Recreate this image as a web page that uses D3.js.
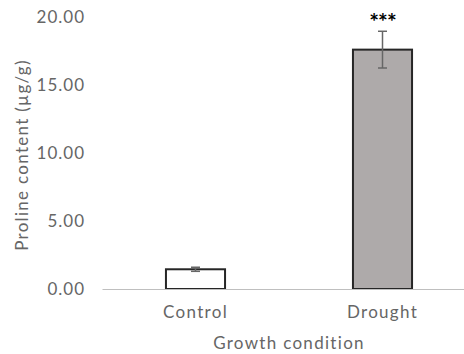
<!DOCTYPE html>
<html>
<head>
<meta charset="utf-8">
<script src="https://cdn.jsdelivr.net/npm/d3@7"></script>
<style>
  body { margin: 0; background: #fff; }
  text { font-family: "Lato", "DejaVu Sans", sans-serif; }
</style>
</head>
<body>
<div id="chart"></div>
<script>
// Data
var categories = ["Control", "Drought"];
var means = [1.45, 17.6];
var errors = [0.15, 1.35];
var fills = ["#ffffff", "#aeaaaa"];
var stars = ["", "***"];
var yTicks = [0, 5, 10, 15, 20];

var svgWidth = 464, svgHeight = 354;

var svg = d3.select("#chart").append("svg")
    .attr("width", svgWidth)
    .attr("height", svgHeight);

// Scales
var x = d3.scaleBand()
    .domain(categories)
    .range([102, 476])
    .paddingInner(0.684)
    .paddingOuter(0.342);

var y = d3.scaleLinear()
    .domain([0, 20])
    .range([289, 17]);

var gray = "#666666";

// Y tick labels (no axis line, no ticks)
var yAxis = d3.axisLeft(y)
    .tickValues(yTicks)
    .tickFormat(d3.format(".2f"))
    .tickSize(0)
    .tickPadding(0);

var gy = svg.append("g")
    .attr("transform", "translate(85,0)")
    .call(yAxis);
gy.select(".domain").remove();
gy.selectAll("text")
    .attr("fill", gray)
    .style("font-size", "17px")
    .style("letter-spacing", "1px")
    .style("font-family", "Lato, 'DejaVu Sans', sans-serif");

// Bars
svg.selectAll(".bar")
    .data(categories)
    .enter().append("rect")
    .attr("class", "bar")
    .attr("x", d => x(d))
    .attr("y", (d, i) => y(means[i]))
    .attr("width", x.bandwidth())
    .attr("height", (d, i) => y(0) - y(means[i]))
    .attr("fill", (d, i) => fills[i])
    .attr("stroke", "#262626")
    .attr("stroke-width", 2);

// X axis line
var xAxis = d3.axisBottom(x)
    .tickSize(0)
    .tickPadding(17);

var gx = svg.append("g")
    .attr("transform", "translate(0," + y(0) + ")")
    .call(xAxis);
gx.select(".domain")
    .attr("stroke", "#bfbfbf")
    .attr("stroke-width", 1.2);
gx.selectAll("text")
    .attr("fill", gray)
    .style("font-size", "17px")
    .style("letter-spacing", "1.3px")
    .style("font-family", "Lato, 'DejaVu Sans', sans-serif");

// Error bars
var cap = 7;
var eb = svg.selectAll(".err")
    .data(categories)
    .enter().append("g")
    .attr("class", "err")
    .attr("stroke", gray)
    .attr("stroke-width", 1.5);
eb.append("line")
    .attr("x1", d => x(d) + x.bandwidth() / 2)
    .attr("x2", d => x(d) + x.bandwidth() / 2)
    .attr("y1", (d, i) => y(means[i] + errors[i]))
    .attr("y2", (d, i) => y(means[i] - errors[i]));
eb.append("line")
    .attr("x1", d => x(d) + x.bandwidth() / 2 - cap / 2 - 1)
    .attr("x2", d => x(d) + x.bandwidth() / 2 + cap / 2 + 1)
    .attr("y1", (d, i) => y(means[i] + errors[i]))
    .attr("y2", (d, i) => y(means[i] + errors[i]));
eb.append("line")
    .attr("x1", d => x(d) + x.bandwidth() / 2 - cap / 2 - 1)
    .attr("x2", d => x(d) + x.bandwidth() / 2 + cap / 2 + 1)
    .attr("y1", (d, i) => y(means[i] - errors[i]))
    .attr("y2", (d, i) => y(means[i] - errors[i]));

// Significance stars
svg.selectAll(".sig")
    .data(categories)
    .enter().append("text")
    .attr("class", "sig")
    .attr("x", d => x(d) + x.bandwidth() / 2)
    .attr("y", (d, i) => y(means[i] + errors[i]) - 1)
    .attr("text-anchor", "middle")
    .attr("fill", "#000")
    .style("font-size", "23px")
    .style("font-weight", "bold")
    .style("letter-spacing", "-1px")
    .text((d, i) => stars[i]);

// Axis titles
svg.append("text")
    .attr("x", 289)
    .attr("y", 349)
    .attr("text-anchor", "middle")
    .attr("fill", gray)
    .style("font-size", "17px")
    .style("letter-spacing", "1.3px")
    .text("Growth condition");

svg.append("text")
    .attr("transform", "translate(28,155) rotate(-90)")
    .attr("text-anchor", "middle")
    .attr("fill", gray)
    .style("font-size", "17px")
    .style("letter-spacing", "1.3px")
    .text("Proline content (µg/g)");
</script>
</body>
</html>
